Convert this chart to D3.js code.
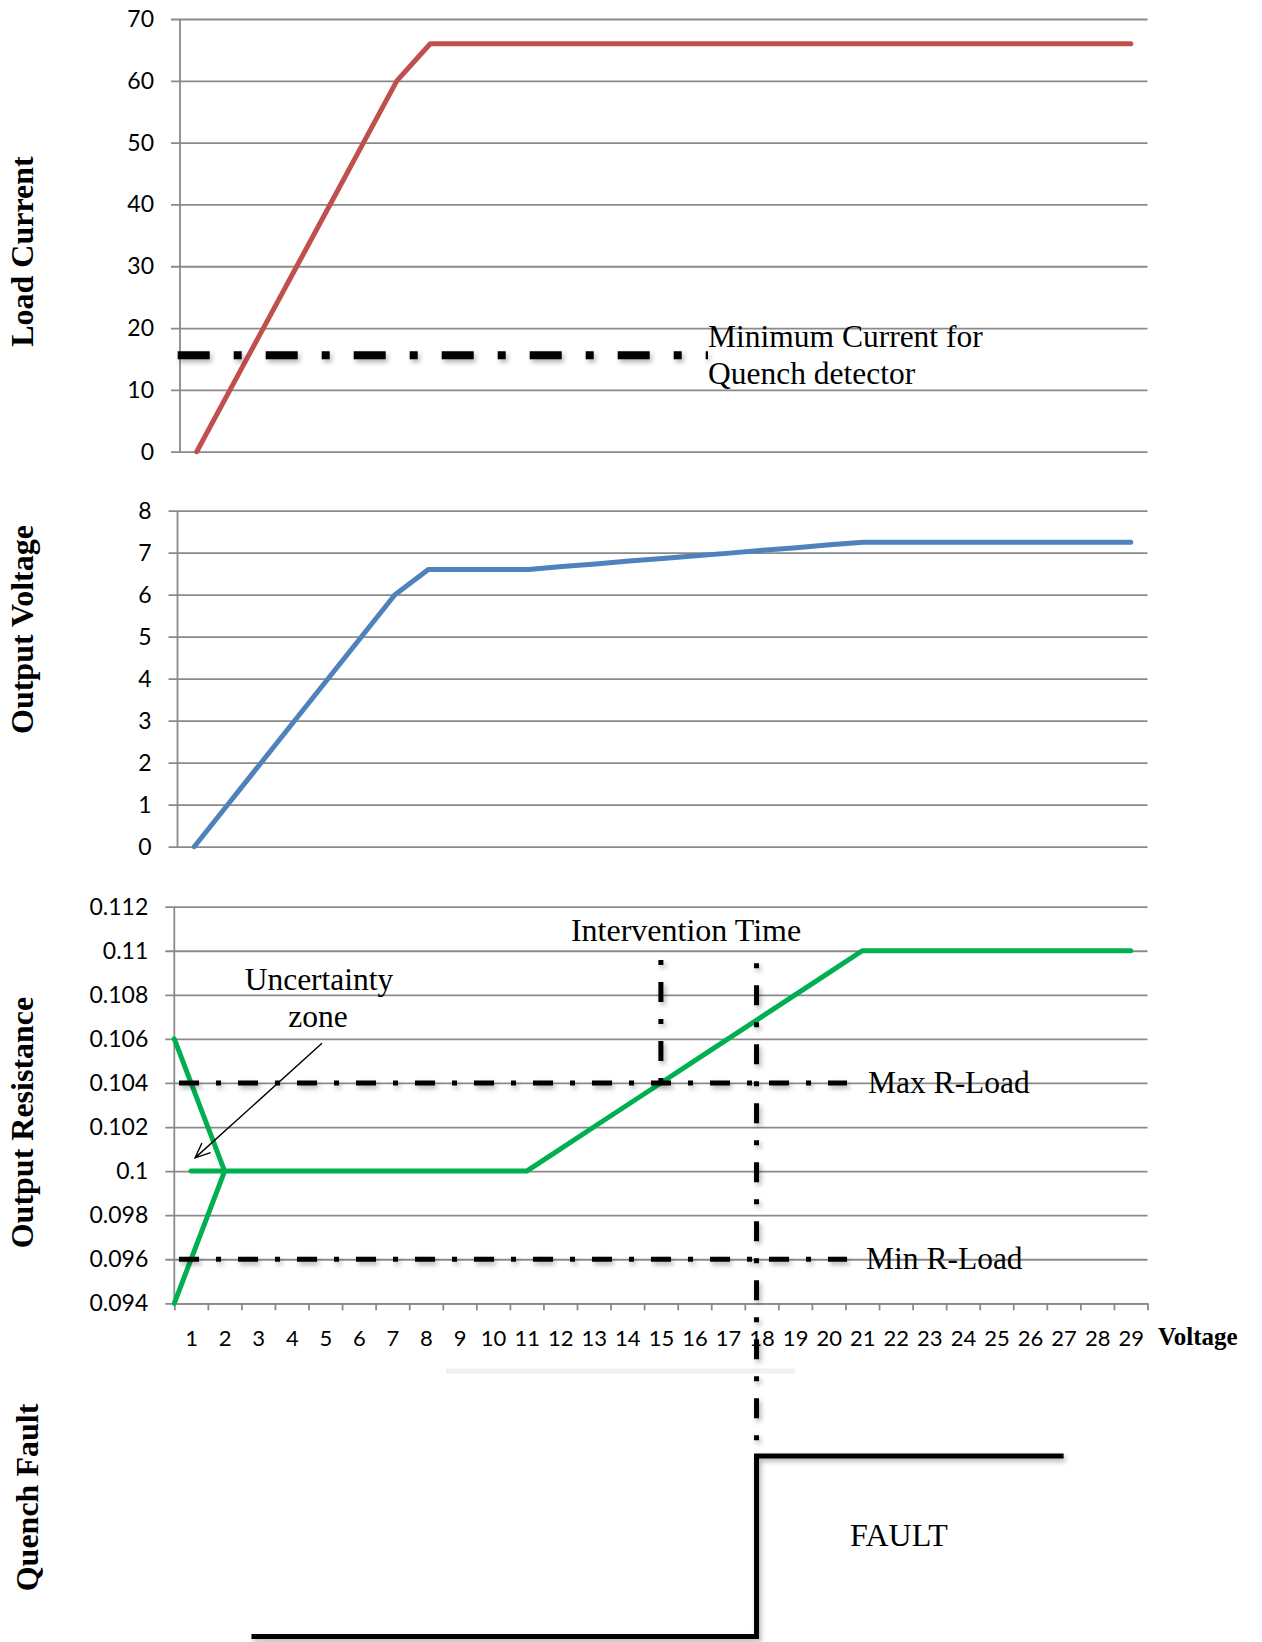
<!DOCTYPE html>
<html>
<head>
<meta charset="utf-8">
<script src="https://cdn.jsdelivr.net/npm/d3@7"></script>
<style>
  body { margin: 0; background: #fff; }
  svg { display: block; }
</style>
</head>
<body>
<div id="chart"></div>
<script>
// ---- data ----
const categories = [1, 2, 3, 4, 5, 6, 7, 8, 9, 10, 11, 12, 13, 14, 15, 16, 17, 18, 19, 20, 21, 22, 23, 24, 25, 26, 27, 28, 29];

const loadCurrent = [0, 10, 20, 30, 40, 50, 60, 66, 66, 66, 66, 66, 66, 66, 66, 66, 66, 66, 66, 66, 66, 66, 66, 66, 66, 66, 66, 66, 66];
const outputVoltage = [0, 1, 2, 3, 4, 5, 6, 6.6, 6.6, 6.6, 6.6, 6.67, 6.73, 6.8, 6.86, 6.93, 6.99, 7.06, 7.12, 7.19, 7.25, 7.25, 7.25, 7.25, 7.25, 7.25, 7.25, 7.25, 7.25];
const outputResistance = [0.1, 0.1, 0.1, 0.1, 0.1, 0.1, 0.1, 0.1, 0.1, 0.1, 0.1, 0.101, 0.102, 0.103, 0.104, 0.105, 0.106, 0.107, 0.108, 0.109, 0.11, 0.11, 0.11, 0.11, 0.11, 0.11, 0.11, 0.11, 0.11];

// the two lines of the uncertainty zone, [category, resistance]
const uncertaintyHigh = [[0.5, 0.106], [2, 0.1]];
const uncertaintyLow = [[0.5, 0.094], [2, 0.1]];

const currentTicks = [0, 10, 20, 30, 40, 50, 60, 70];
const voltageTicks = [0, 1, 2, 3, 4, 5, 6, 7, 8];
const resistanceTicks = [0.094, 0.096, 0.098, 0.1, 0.102, 0.104, 0.106, 0.108, 0.11, 0.112];

const minCurrent = 15.6;        // quench detector threshold
const maxRLoad = 0.104;
const minRLoad = 0.096;
const interventionStart = 15;   // category where R crosses Max R-Load
const interventionEnd = 17.85;  // category where the fault fires

// quench fault state, [category, state]
const quenchFault = [[2.8, 0], [17.85, 0], [17.85, 1], [27, 1]];

// ---- drawing ----
const W = 1262, H = 1642;
const GRID = '#8a8a8a';
const SANS = 'Lato, "Open Sans", sans-serif';
const SERIF = '"Liberation Serif", "Times New Roman", serif';

const svg = d3.select('#chart').append('svg')
    .attr('width', W)
    .attr('height', H);

// soft shadow like the one under the hand drawn lines
svg.append('defs').append('filter')
    .attr('id', 'soft')
    .attr('filterUnits', 'userSpaceOnUse')
    .attr('x', 0).attr('y', 0).attr('width', W).attr('height', H)
  .append('feDropShadow')
    .attr('dx', 2).attr('dy', 3)
    .attr('stdDeviation', 2.5)
    .attr('flood-color', '#000')
    .attr('flood-opacity', 0.3);

function panel(cfg) {
    const x = d3.scaleLinear().domain([0.5, 29.5]).range([cfg.left, cfg.right]);
    const y = d3.scaleLinear().domain(cfg.domain).range([cfg.bottom, cfg.top]);
    const g = svg.append('g');

    // gridlines + outer tick marks + labels in one axis
    const ax = g.append('g')
        .attr('transform', `translate(${cfg.left - 9},0)`)
        .call(d3.axisLeft(y)
            .tickValues(cfg.ticks)
            .tickSize(-(cfg.right - cfg.left + 9))
            .tickPadding(17)
            .tickFormat(cfg.fmt));
    ax.select('.domain').remove();
    ax.selectAll('line').attr('stroke', GRID).attr('stroke-width', 1.8);
    ax.selectAll('text')
        .attr('font-family', SANS)
        .attr('font-size', 23)
        .attr('fill', '#000');

    g.append('line')
        .attr('x1', cfg.left).attr('x2', cfg.left)
        .attr('y1', cfg.top).attr('y2', cfg.bottom)
        .attr('stroke', GRID).attr('stroke-width', 1.8);

    g.append('text')
        .attr('transform', `translate(33,${cfg.labelY}) rotate(-90)`)
        .attr('text-anchor', 'middle')
        .attr('font-family', SERIF)
        .attr('font-weight', 'bold')
        .attr('font-size', 32)
        .text(cfg.label);

    return { x, y, g };
}

function drawSeries(p, pts, color) {
    p.g.append('path')
        .datum(pts)
        .attr('fill', 'none')
        .attr('stroke', color)
        .attr('stroke-width', 5)
        .attr('stroke-linejoin', 'round')
        .attr('stroke-linecap', 'round')
        .attr('d', d3.line().x(d => p.x(d[0])).y(d => p.y(d[1])));
}

function dashLine(g, x1, y1, x2, y2, width, dash) {
    g.append('line')
        .attr('x1', x1).attr('y1', y1)
        .attr('x2', x2).attr('y2', y2)
        .attr('stroke', '#000')
        .attr('stroke-width', width)
        .attr('stroke-dasharray', dash)
        .attr('filter', 'url(#soft)');
}

function note(g, x, y, str, size, anchor) {
    g.append('text')
        .attr('x', x).attr('y', y)
        .attr('text-anchor', anchor || 'start')
        .attr('font-family', SERIF)
        .attr('font-size', size)
        .text(str);
}

// Load current
const pI = panel({ left: 180, right: 1147.5, top: 19, bottom: 451.7, domain: [0, 70],
    ticks: currentTicks, fmt: d3.format('d'), label: 'Load Current', labelY: 251.5 });
drawSeries(pI, categories.map((c, i) => [c, loadCurrent[i]]), '#C0504D');
dashLine(pI.g, 177.7, pI.y(minCurrent), 708, pI.y(minCurrent), 8, '32,24,8,24');
note(pI.g, 708, 347, 'Minimum Current for', 31.5);
note(pI.g, 708, 384, 'Quench detector', 31.5);

// Output voltage
const pV = panel({ left: 177.5, right: 1147.5, top: 510.7, bottom: 846.7, domain: [0, 8],
    ticks: voltageTicks, fmt: d3.format('d'), label: 'Output Voltage', labelY: 629.5 });
drawSeries(pV, categories.map((c, i) => [c, outputVoltage[i]]), '#4F81BD');

// Output resistance
const pR = panel({ left: 174.3, right: 1147.5, top: 906.7, bottom: 1303.3, domain: [0.094, 0.112],
    ticks: resistanceTicks, fmt: d => String(+d.toFixed(3)), label: 'Output Resistance', labelY: 1122.5 });

// category axis under the resistance panel
const boundaries = categories.map(c => c - 0.5).concat([29.5]);
const xTicks = pR.g.append('g')
    .attr('transform', `translate(0,${pR.y(0.094)})`)
    .call(d3.axisBottom(pR.x).tickValues(boundaries).tickSize(7).tickSizeOuter(0).tickFormat(''));
xTicks.selectAll('line, path').attr('stroke', GRID).attr('stroke-width', 1.8);

const xLabels = pR.g.append('g')
    .attr('transform', `translate(0,${pR.y(0.094)})`)
    .call(d3.axisBottom(pR.x).tickValues(categories).tickSize(0).tickPadding(27));
xLabels.select('.domain').remove();
xLabels.selectAll('text')
    .attr('font-family', SANS)
    .attr('font-size', 22)
    .attr('fill', '#000');

pR.g.append('text')
    .attr('x', 1158).attr('y', 1345)
    .attr('font-family', SERIF)
    .attr('font-weight', 'bold')
    .attr('font-size', 25)
    .text('Voltage');

drawSeries(pR, categories.map((c, i) => [c, outputResistance[i]]), '#00B050');
drawSeries(pR, uncertaintyHigh, '#00B050');
drawSeries(pR, uncertaintyLow, '#00B050');

dashLine(pR.g, 179, pR.y(maxRLoad), 847, pR.y(maxRLoad), 5, '20,17,5,17');
dashLine(pR.g, 179, pR.y(minRLoad), 847, pR.y(minRLoad), 5, '20,17,5,17');
note(pR.g, 868, pR.y(maxRLoad) + 10, 'Max R-Load', 31.5);
note(pR.g, 866, pR.y(minRLoad) + 10, 'Min R-Load', 31.5);

note(pR.g, 686, 941, 'Intervention Time', 32, 'middle');
note(pR.g, 319, 990, 'Uncertainty', 31.5, 'middle');
note(pR.g, 318, 1027, 'zone', 31.5, 'middle');

// arrow pointing into the uncertainty zone
svg.select('defs').append('marker')
    .attr('id', 'open-arrow')
    .attr('markerUnits', 'userSpaceOnUse')
    .attr('viewBox', '-16 -8 18 16')
    .attr('markerWidth', 18).attr('markerHeight', 16)
    .attr('refX', 0).attr('refY', 0)
    .attr('orient', 'auto')
  .append('path')
    .attr('d', 'M-15,-6.5L0,0L-15,6.5')
    .attr('fill', 'none')
    .attr('stroke', '#000')
    .attr('stroke-width', 1.4);
pR.g.append('line')
    .attr('x1', pR.x(4.9)).attr('y1', pR.y(0.1058))
    .attr('x2', pR.x(1.12)).attr('y2', pR.y(0.1006))
    .attr('stroke', '#000')
    .attr('stroke-width', 1.4)
    .attr('marker-end', 'url(#open-arrow)');

// Quench fault (no axes, shares the category scale)
const yFault = d3.scaleLinear().domain([0, 1]).range([1636.5, 1456]);
const gF = svg.append('g');

gF.append('line')
    .attr('x1', 446).attr('x2', 795)
    .attr('y1', 1371).attr('y2', 1371)
    .attr('stroke', '#f0f0f0')
    .attr('stroke-width', 5);

dashLine(pR.g, pR.x(interventionStart), pR.y(0.10958), pR.x(interventionStart), pR.y(maxRLoad), 5, '5,17,20,17');
dashLine(gF, pR.x(interventionEnd), pR.y(0.10943), pR.x(interventionEnd), yFault(1.03), 5, '5,17,20,17');

gF.append('path')
    .datum(quenchFault)
    .attr('fill', 'none')
    .attr('stroke', '#000')
    .attr('stroke-width', 5)
    .attr('filter', 'url(#soft)')
    .attr('d', d3.line().x(d => pR.x(d[0])).y(d => yFault(d[1])));

note(gF, 850, 1546, 'FAULT', 32);

gF.append('text')
    .attr('transform', 'translate(38,1497.5) rotate(-90)')
    .attr('text-anchor', 'middle')
    .attr('font-family', SERIF)
    .attr('font-weight', 'bold')
    .attr('font-size', 32)
    .text('Quench Fault');
</script>
</body>
</html>
